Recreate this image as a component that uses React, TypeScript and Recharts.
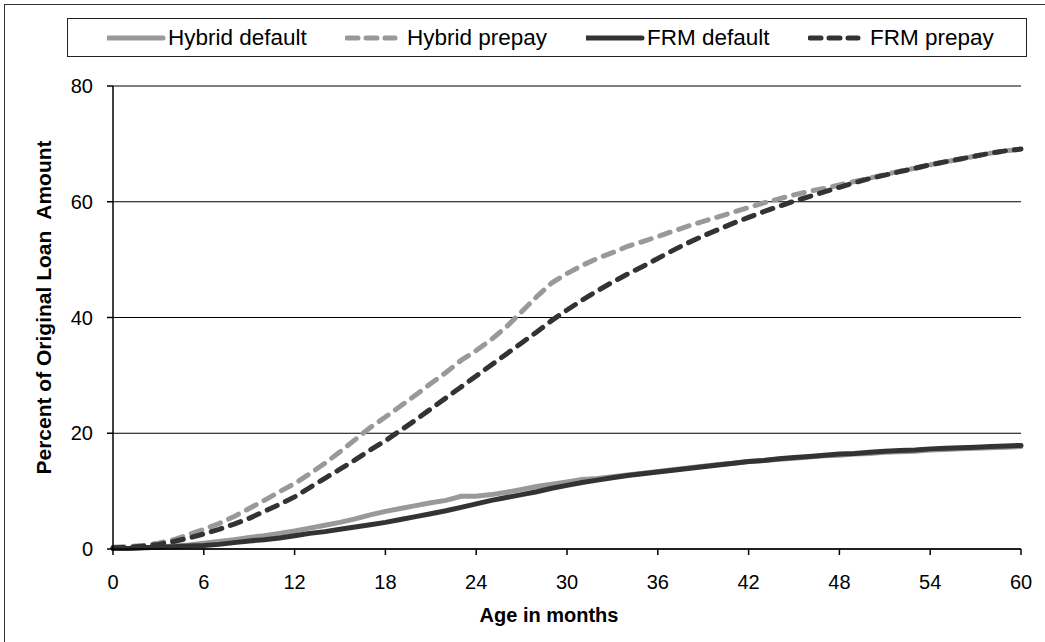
import { CartesianGrid, Label, Line, LineChart, XAxis, YAxis } from "recharts";

const months = [
  0, 1, 2, 3, 4, 5, 6, 7, 8, 9, 10, 11, 12, 13, 14, 15, 16, 17, 18, 19, 20,
  21, 22, 23, 24, 25, 26, 27, 28, 29, 30, 31, 32, 33, 34, 35, 36, 37, 38, 39,
  40, 41, 42, 43, 44, 45, 46, 47, 48, 49, 50, 51, 52, 53, 54, 55, 56, 57, 58,
  59, 60,
];

const hybridDefault = [
  0.1, 0.1, 0.2, 0.3, 0.5, 0.7, 1.0, 1.3, 1.6, 2.0, 2.3, 2.7, 3.1, 3.6, 4.1,
  4.6, 5.2, 5.9, 6.5, 7.0, 7.5, 8.0, 8.4, 9.1, 9.1, 9.4, 9.8, 10.3, 10.8, 11.2,
  11.6, 12.0, 12.2, 12.5, 12.8, 13.1, 13.4, 13.7, 14.0, 14.3, 14.6, 14.8, 15.1,
  15.3, 15.5, 15.7, 15.9, 16.1, 16.2, 16.4, 16.5, 16.7, 16.8, 16.9, 17.1, 17.2,
  17.3, 17.4, 17.5, 17.6, 17.7,
];

const hybridPrepay = [
  0.3, 0.4, 0.6, 1.0, 1.6, 2.5, 3.4, 4.4, 5.6, 7.0, 8.4, 9.9, 11.3, 13.0, 14.8,
  16.8, 18.9, 21.0, 22.8, 24.7, 26.6, 28.6, 30.5, 32.6, 34.3, 36.2, 38.4, 41.0,
  43.6, 46.0, 47.6, 49.0, 50.2, 51.2, 52.3, 53.1, 54.0, 54.9, 55.8, 56.6, 57.4,
  58.2, 59.0, 59.8, 60.5, 61.2, 61.8, 62.3, 62.9, 63.5, 64.1, 64.7, 65.3, 65.8,
  66.4, 66.9, 67.4, 67.9, 68.4, 68.8, 69.1,
];

const frmDefault = [
  0.1, 0.1, 0.2, 0.3, 0.4, 0.5, 0.6, 0.8, 1.1, 1.4, 1.6, 1.9, 2.3, 2.7, 3.0,
  3.4, 3.8, 4.2, 4.6, 5.1, 5.6, 6.1, 6.6, 7.2, 7.8, 8.4, 8.9, 9.4, 9.9, 10.5,
  11.0, 11.5, 11.9, 12.3, 12.7, 13.0, 13.3, 13.6, 13.9, 14.2, 14.5, 14.8, 15.1,
  15.3, 15.6, 15.8, 16.0, 16.2, 16.4, 16.5, 16.7, 16.9, 17.0, 17.1, 17.3, 17.4,
  17.5, 17.6, 17.7, 17.8, 17.9,
];

const frmPrepay = [
  0.2, 0.3, 0.5, 0.8, 1.3, 1.9, 2.6, 3.4, 4.3, 5.3, 6.5, 7.7, 9.0, 10.6, 12.2,
  13.8, 15.4, 17.1, 18.7, 20.5, 22.3, 24.2, 26.1, 28.0, 29.9, 31.8, 33.7, 35.6,
  37.5, 39.5, 41.3, 43.0, 44.6, 46.1, 47.5, 48.8, 50.2, 51.6, 52.9, 54.1, 55.2,
  56.3, 57.3, 58.3, 59.2, 60.1, 60.9, 61.7, 62.5, 63.3, 64.0, 64.6, 65.2, 65.8,
  66.4, 66.9, 67.4, 67.9, 68.4, 68.8, 69.1,
];

const xTicks = [0, 6, 12, 18, 24, 30, 36, 42, 48, 54, 60];
const yTicks = [0, 20, 40, 60, 80];

const seriesNames = ["Hybrid default", "Hybrid prepay", "FRM default", "FRM prepay"];

const data = months.map((month, i) => ({
  month,
  hybridDefault: hybridDefault[i],
  hybridPrepay: hybridPrepay[i],
  frmDefault: frmDefault[i],
  frmPrepay: frmPrepay[i],
}));

const LIGHT = "#999999";
const DARK = "#333333";
const DASH = "11 9";

const series = [
  { key: "hybridDefault", name: seriesNames[0], color: LIGHT, dashed: false },
  { key: "hybridPrepay", name: seriesNames[1], color: LIGHT, dashed: true },
  { key: "frmDefault", name: seriesNames[2], color: DARK, dashed: false },
  { key: "frmPrepay", name: seriesNames[3], color: DARK, dashed: true },
];

// legend item x positions (page px)
const legendLeft = [107, 345, 586, 808];

const FONT = 'Arial, "Liberation Sans", sans-serif';

function ChartLegend() {
  return (
    <div
      style={{
        position: "absolute",
        left: 67,
        top: 18,
        width: 958,
        height: 37,
        border: "1px solid #222",
        background: "#fff",
      }}
    >
      {series.map((s, i) => (
        <div
          key={s.key}
          style={{
            position: "absolute",
            left: legendLeft[i] - 68,
            top: 0,
            height: 37,
            display: "flex",
            alignItems: "center",
            fontSize: 22.5,
            color: "#000",
            whiteSpace: "nowrap",
          }}
        >
          <svg width={s.dashed ? 62 : 61} height={10} style={{ display: "block" }}>
            <line
              x1={s.dashed ? 2 : 0}
              y1={5}
              x2={s.dashed ? 50 : 56}
              y2={5}
              stroke={s.color}
              strokeWidth={5}
              strokeLinecap="round"
              strokeDasharray={s.dashed ? "11 8" : undefined}
            />
          </svg>
          <span>{s.name}</span>
        </div>
      ))}
    </div>
  );
}

export default function App() {
  return (
    <div
      style={{
        position: "absolute",
        left: 0,
        top: 0,
        width: 1045,
        height: 642,
        overflow: "hidden",
        background: "#fff",
        fontFamily: FONT,
      }}
    >
      <div
        style={{
          position: "absolute",
          left: 4,
          top: 4,
          width: 1100,
          height: 700,
          border: "1.5px solid #333",
        }}
      />
      <LineChart
        width={1045}
        height={642}
        data={data}
        margin={{ top: 86, right: 24, bottom: 0, left: 0 }}
        style={{ position: "absolute", left: 0, top: 0, fontFamily: FONT }}
      >
        <CartesianGrid stroke="#000" strokeWidth={1} vertical={false} />
        <XAxis
          dataKey="month"
          type="number"
          domain={[0, 60]}
          ticks={xTicks}
          interval={0}
          height={93}
          tickSize={6}
          tickMargin={20}
          axisLine={{ stroke: "#000", strokeWidth: 1.5 }}
          tickLine={{ stroke: "#000", strokeWidth: 1.5 }}
          tick={{ fill: "#000", fontSize: 20 }}
        >
          <Label
            content={({ viewBox }: any) => (
              <text
                x={viewBox.x + viewBox.width / 2 - 18}
                y={viewBox.y + viewBox.height - 20}
                textAnchor="middle"
                fontSize={20}
                fontWeight={700}
                fill="#000"
              >
                Age in months
              </text>
            )}
          />
        </XAxis>
        <YAxis
          type="number"
          domain={[0, 80]}
          ticks={yTicks}
          interval={0}
          width={113}
          tickSize={6}
          tickMargin={14}
          axisLine={{ stroke: "#000", strokeWidth: 1.5 }}
          tickLine={{ stroke: "#000", strokeWidth: 1.5 }}
          tick={{ fill: "#000", fontSize: 20 }}
        >
          <Label
            content={({ viewBox }: any) => {
              const cx = 43;
              const cy = viewBox.y + viewBox.height / 2 - 10;
              return (
                <text
                  x={cx}
                  y={cy}
                  transform={`rotate(-90 ${cx} ${cy})`}
                  textAnchor="middle"
                  dominantBaseline="central"
                  fontSize={21}
                  fontWeight={700}
                  fill="#000"
                  style={{ whiteSpace: "pre" }}
                >
                  {"Percent of Original Loan  Amount"}
                </text>
              );
            }}
          />
        </YAxis>
        {series.map((s) => (
          <Line
            key={s.key}
            type="linear"
            dataKey={s.key}
            name={s.name}
            stroke={s.color}
            strokeWidth={5}
            strokeDasharray={s.dashed ? DASH : undefined}
            strokeLinecap="round"
            dot={false}
            activeDot={false}
            isAnimationActive={false}
          />
        ))}
      </LineChart>
      <ChartLegend />
    </div>
  );
}
